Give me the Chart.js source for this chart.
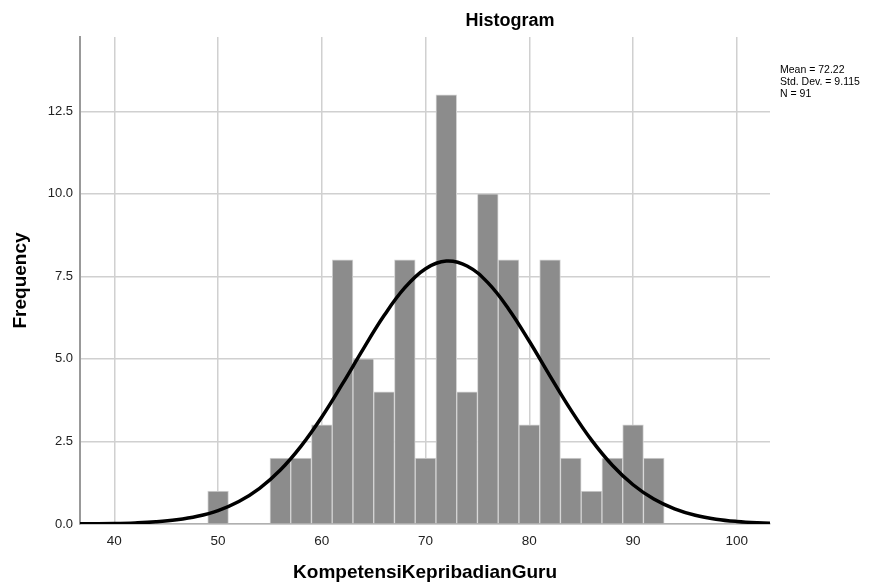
<!DOCTYPE html>
<html>
<head>
<meta charset="utf-8">
<script src="https://cdn.jsdelivr.net/npm/chart.js@4.4.1/dist/chart.umd.min.js"></script>
<style>
  html, body { margin: 0; padding: 0; background: #fff; }
  #wrap { width: 884px; height: 584px; position: relative; }
</style>
</head>
<body>
<div id="wrap"><canvas id="histChart"></canvas></div>
<script>
// Histogram bins (bin centre, width 2) and counts
const binCenters = [50, 56, 58, 60, 62, 64, 66, 68, 70, 72, 74, 76, 78, 80, 82, 84, 86, 88, 90, 92];
const binCounts = [1, 2, 2, 3, 8, 5, 4, 8, 2, 13, 4, 10, 8, 3, 8, 2, 1, 2, 3, 2];

// Normal curve
const curveX = [36, 38, 40, 42, 44, 46, 48, 50, 52, 54, 56, 58, 60, 62, 64, 66, 68, 70, 72, 74, 76, 78, 80, 82, 84, 86, 88, 90, 92, 94, 96, 98, 100, 102, 104];
const curveY = [0.003, 0.007, 0.015, 0.033, 0.066, 0.127, 0.233, 0.408, 0.681, 1.08, 1.634, 2.359, 3.242, 4.249, 5.305, 6.312, 7.157, 7.733, 7.964, 7.816, 7.31, 6.515, 5.534, 4.48, 3.456, 2.54, 1.78, 1.189, 0.756, 0.459, 0.265, 0.146, 0.077, 0.038, 0.018];

const xTicks = [40, 50, 60, 70, 80, 90, 100];
const yTicks = [0, 2.5, 5, 7.5, 10, 12.5];
const statsLines = ["Mean = 72.22", "Std. Dev. = 9.115", "N = 91"];

// Title and stats text
const textPlugin = {
  id: "textPlugin",
  afterDraw(chart) {
    const ctx = chart.ctx;
    ctx.save();
    ctx.fillStyle = "#000";
    ctx.font = "bold 18px 'Liberation Sans', Arial, sans-serif";
    ctx.textAlign = "center";
    ctx.textBaseline = "middle";
    ctx.fillText("Histogram", 510, 21);
    ctx.font = "10.5px 'Liberation Sans', Arial, sans-serif";
    ctx.textAlign = "left";
    ctx.textBaseline = "top";
    statsLines.forEach((line, i) => {
      ctx.fillText(line, 780, 65 + i * 12);
    });
    ctx.restore();
  },
};

function initializeHistogram() {
  const ctx = document.getElementById("histChart").getContext("2d");
  new Chart(ctx, {
    type: "bar",
    data: {
      datasets: [
        {
          type: "line",
          data: curveX.map((x, i) => ({ x: x, y: curveY[i] })),
          borderColor: "#000",
          borderWidth: 3.5,
          pointRadius: 0,
          tension: 0.4,
          fill: false,
          order: 0,
        },
        {
          data: binCenters.map((x, i) => ({ x: x, y: binCounts[i] })),
          backgroundColor: "#8c8c8c",
          borderColor: "#d4d4d4",
          borderWidth: 1,
          categoryPercentage: 1,
          barPercentage: 1,
          order: 1,
        },
      ],
    },
    options: {
      responsive: true,
      maintainAspectRatio: false,
      animation: false,
      layout: { padding: { top: 37, right: 114, left: 9, bottom: 0 } },
      plugins: {
        legend: { display: false },
        tooltip: { enabled: false },
        title: { display: false },
      },
      scales: {
        x: {
          type: "linear",
          min: 36.7,
          max: 103.2,
          offset: false,
          afterBuildTicks: (axis) => {
            axis.ticks = xTicks.map((v) => ({ value: v }));
          },
          grid: { color: "#d0d0d0", lineWidth: 1.5, drawTicks: false, offset: false },
          border: { color: "#b0b0b0", width: 1.5 },
          ticks: {
            color: "#222",
            padding: 9,
            font: { family: "'Liberation Sans', Arial, sans-serif", size: 13.5 },
          },
          title: {
            display: true,
            text: "KompetensiKepribadianGuru",
            color: "#000",
            padding: { top: 3, bottom: 0 },
            font: { family: "'Liberation Sans', Arial, sans-serif", size: 19, weight: "bold" },
          },
        },
        y: {
          min: 0,
          max: 14.75,
          afterBuildTicks: (axis) => {
            axis.ticks = yTicks.map((v) => ({ value: v }));
          },
          grid: { color: "#d0d0d0", lineWidth: 1.5, drawTicks: false },
          border: { color: "#999", width: 2 },
          ticks: {
            color: "#222",
            padding: 7,
            callback: (v) => v.toFixed(1),
            font: { family: "'Liberation Sans', Arial, sans-serif", size: 13 },
          },
          title: {
            display: true,
            text: "Frequency",
            color: "#000",
            padding: { top: 0, bottom: 9 },
            font: { family: "'Liberation Sans', Arial, sans-serif", size: 19, weight: "bold" },
          },
        },
      },
    },
    plugins: [textPlugin],
  });
}

initializeHistogram();
</script>
</body>
</html>
